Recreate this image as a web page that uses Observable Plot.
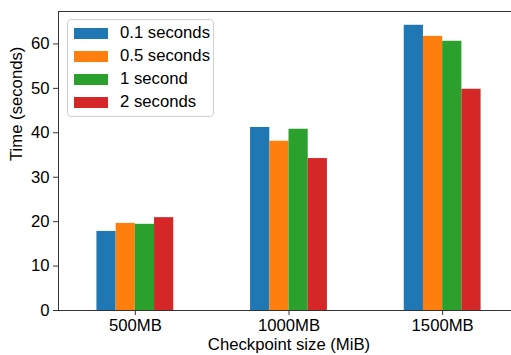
<!DOCTYPE html>
<html>
<head>
<meta charset="utf-8">
<script src="https://cdn.jsdelivr.net/npm/d3@7"></script>
<script src="https://cdn.jsdelivr.net/npm/@observablehq/plot@0.6"></script>
<style>
  html, body { margin: 0; padding: 0; overflow: hidden; background: #fff; }
  #wrap { position: relative; width: 511px; height: 355px; overflow: hidden; }
  #chart svg { max-width: none !important; display: block; }
  #legend { position: absolute; left: 67px; top: 19px; width: 145px; height: 96px;
    border: 1px solid #d0d0d0; border-radius: 4px; background: rgba(255,255,255,0.8);
    font-family: "Liberation Sans", Arial, sans-serif; font-size: 16.7px; color: #000; }
  .row { position: absolute; left: 6px; height: 23px; display: flex; align-items: center; }
  .sw { width: 34px; height: 11px; margin-right: 12px; }
</style>
</head>
<body>
<div id="wrap"><div id="chart"></div><div id="legend"></div></div>
<script>
const categories = ["500MB", "1000MB", "1500MB"];
const seriesNames = ["0.1 seconds", "0.5 seconds", "1 second", "2 seconds"];
const seriesColors = ["#1f77b4", "#ff7f0e", "#2ca02c", "#d62728"];
const s01 = [17.8, 41.2, 64.2];
const s05 = [19.6, 38.1, 61.7];
const s1 = [19.4, 40.8, 60.6];
const s2 = [20.9, 34.2, 49.8];
const yTicks = [0, 10, 20, 30, 40, 50, 60];

const seriesValues = [s01, s05, s1, s2];
const barWidth = 0.125;
const data = [];
seriesValues.forEach((vals, s) => {
  vals.forEach((v, i) => {
    const x1 = i - 2 * barWidth + s * barWidth;
    data.push({cat: categories[i], series: seriesNames[s], x1, x2: x1 + barWidth, value: v});
  });
});

const font = "Liberation Sans, Arial, sans-serif";
const fs = 16.7;
const plot = Plot.plot({
  width: 520,
  height: 355,
  marginLeft: 58,
  marginRight: 1,
  marginTop: 11,
  marginBottom: 45,
  style: {fontFamily: font, fontSize: fs + "px", color: "#000", background: "#fff", overflow: "visible", maxWidth: "none"},
  x: {type: "linear", domain: [-0.5, 2.5]},
  y: {domain: [0, 67.3]},
  color: {domain: seriesNames, range: seriesColors},
  marks: [
    Plot.rectY(data, {x1: "x1", x2: "x2", y: "value", fill: "series"}),
    Plot.axisY({ticks: yTicks, tickSize: 5, tickPadding: 4, label: null, stroke: "#333", fontSize: fs}),
    Plot.axisX({ticks: [0, 1, 2], tickFormat: i => categories[i], tickSize: 5, tickPadding: 4, label: null, stroke: "#333", fontSize: fs}),
    Plot.frame({stroke: "#333"}),
    Plot.text(["Checkpoint size (MiB)"], {frameAnchor: "bottom", dy: 39.5, fontSize: fs, fill: "#000"}),
    Plot.text(["Time (seconds)"], {frameAnchor: "left", dx: -42, rotate: -90, fontSize: fs, fill: "#000"})
  ]
});
document.getElementById("chart").appendChild(plot);

const legend = document.getElementById("legend");
seriesNames.forEach((name, s) => {
  const row = document.createElement("div");
  row.className = "row";
  row.style.top = (1.5 + s * 23) + "px";
  const sw = document.createElement("div");
  sw.className = "sw";
  sw.style.background = seriesColors[s];
  const t = document.createElement("span");
  t.textContent = name;
  row.appendChild(sw);
  row.appendChild(t);
  legend.appendChild(row);
});
</script>
</body>
</html>
